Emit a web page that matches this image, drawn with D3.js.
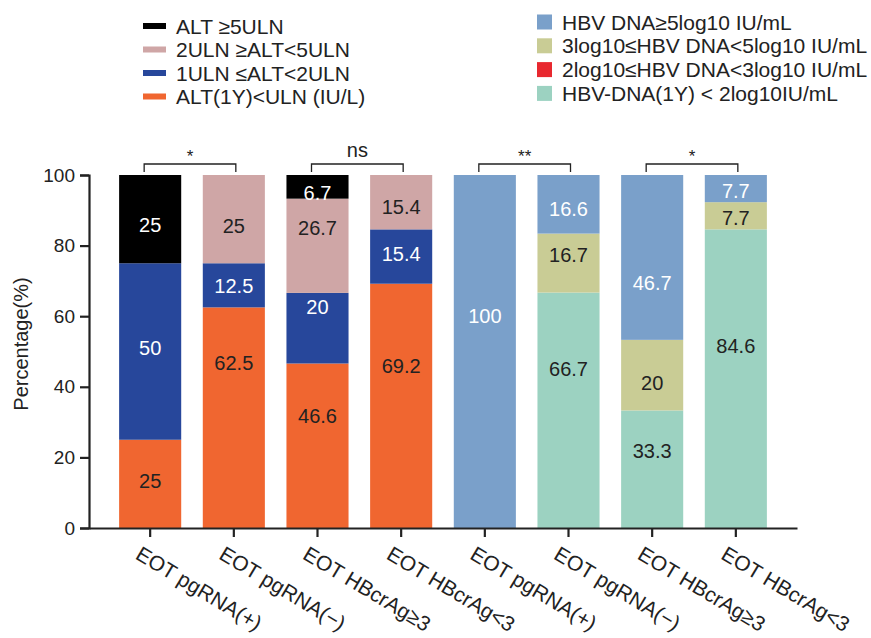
<!DOCTYPE html>
<html>
<head>
<meta charset="utf-8">
<script src="https://cdn.jsdelivr.net/npm/d3@7"></script>
<style>
  html, body { margin: 0; padding: 0; background: #fff; }
  svg { display: block; font-family: "Liberation Sans", Arial, Helvetica, sans-serif; }
</style>
</head>
<body>
<svg id="chart" width="871" height="638"></svg>
<script>
// Groups along the x axis
const categories = [
  "EOT pgRNA(+)", "EOT pgRNA(−)", "EOT HBcrAg≥3", "EOT HBcrAg<3",
  "EOT pgRNA(+)", "EOT pgRNA(−)", "EOT HBcrAg≥3", "EOT HBcrAg<3"
];

// ALT outcome at 1 year (%), first four groups
const altBelowUln = [25, 62.5, 46.6, 69.2, 0, 0, 0, 0];
const alt1to2Uln  = [50, 12.5, 20, 15.4, 0, 0, 0, 0];
const alt2to5Uln  = [0, 25, 26.7, 15.4, 0, 0, 0, 0];
const altAbove5   = [25, 0, 6.7, 0, 0, 0, 0, 0];

// HBV DNA outcome at 1 year (%), last four groups
const dnaBelow2 = [0, 0, 0, 0, 0, 66.7, 33.3, 84.6];
const dna2to3   = [0, 0, 0, 0, 0, 0, 0, 0];
const dna3to5   = [0, 0, 0, 0, 0, 16.7, 20, 7.7];
const dnaAbove5 = [0, 0, 0, 0, 100, 16.6, 46.7, 7.7];

const yTicks = [0, 20, 40, 60, 80, 100];

// Where each value label sits inside its segment (percent units)
const labelAt = {
  altAbove5:   [85.8, null, 94.9, null, null, null, null, null],
  alt2to5Uln:  [null, 85.6, 85.0, 90.9, null, null, null, null],
  alt1to2Uln:  [51.0, 68.6, 62.6, 77.6, null, null, null, null],
  altBelowUln: [13.3, 46.7, 31.7, 45.9, null, null, null, null],
  dnaAbove5:   [null, null, null, null, 60.0, 90.4, 69.4, 95.5],
  dna3to5:     [null, null, null, null, null, 77.3, 41.0, 87.8],
  dnaBelow2:   [null, null, null, null, null, 45.0, 21.8, 51.6]
};

// Significance brackets between pairs of groups
const comparisons = [
  { a: 0, b: 1, text: "*" },
  { a: 2, b: 3, text: "ns" },
  { a: 4, b: 5, text: "**" },
  { a: 6, b: 7, text: "*" }
];

const series = {
  altBelowUln, alt1to2Uln, alt2to5Uln, altAbove5,
  dnaBelow2, dna2to3, dna3to5, dnaAbove5
};
const stackOrder = ["altBelowUln", "dnaBelow2", "alt1to2Uln", "dna2to3",
                    "alt2to5Uln", "dna3to5", "altAbove5", "dnaAbove5"];

const colors = {
  altAbove5: "#000000",
  alt2to5Uln: "#cfa6a6",
  alt1to2Uln: "#27479b",
  altBelowUln: "#f06630",
  dnaAbove5: "#7aa0ca",
  dna3to5: "#c9cc95",
  dna2to3: "#e8282f",
  dnaBelow2: "#9cd2c1"
};
const labelColor = {
  altAbove5: "#ffffff", alt1to2Uln: "#ffffff", dnaAbove5: "#ffffff",
  alt2to5Uln: "#222222", altBelowUln: "#222222", dna3to5: "#222222", dnaBelow2: "#222222"
};

const legendAlt = [
  { key: "altAbove5", text: "ALT ≥5ULN" },
  { key: "alt2to5Uln", text: "2ULN ≥ALT<5ULN" },
  { key: "alt1to2Uln", text: "1ULN ≤ALT<2ULN" },
  { key: "altBelowUln", text: "ALT(1Y)<ULN (IU/L)" }
];
const legendDna = [
  { key: "dnaAbove5", text: "HBV DNA≥5log10 IU/mL" },
  { key: "dna3to5", text: "3log10≤HBV DNA<5log10 IU/mL" },
  { key: "dna2to3", text: "2log10≤HBV DNA<3log10 IU/mL" },
  { key: "dnaBelow2", text: "HBV-DNA(1Y) < 2log10IU/mL" }
];

const svg = d3.select("#chart");
const axisLeft = 89, axisRight = 797, yBottom = 528, yTop = 175;
const ink = "#222";

const x = d3.scaleBand()
  .domain(d3.range(categories.length))
  .range([axisLeft, axisRight])
  .paddingInner(0.258)
  .paddingOuter(0.36);

const y = d3.scaleLinear().domain([0, 100]).range([yBottom, yTop]);

const rows = categories.map((c, i) => {
  const r = { i };
  stackOrder.forEach(k => r[k] = series[k][i]);
  return r;
});
const stacked = d3.stack().keys(stackOrder)(rows);

// Stacked bars
const layers = svg.append("g").selectAll("g")
  .data(stacked)
  .join("g")
  .attr("fill", d => colors[d.key]);

layers.selectAll("rect")
  .data(d => d.filter(p => p[1] - p[0] > 0))
  .join("rect")
  .attr("x", p => x(p.data.i))
  .attr("width", x.bandwidth())
  .attr("y", p => y(p[1]))
  .attr("height", p => y(p[0]) - y(p[1]));

// Value labels
const labelG = svg.append("g")
  .attr("font-size", 20)
  .attr("text-anchor", "middle");
Object.keys(labelAt).forEach(k => {
  labelAt[k].forEach((pos, i) => {
    if (pos === null) return;
    labelG.append("text")
      .attr("x", x(i) + x.bandwidth() / 2)
      .attr("y", y(pos))
      .attr("dy", "0.36em")
      .attr("fill", labelColor[k])
      .text(series[k][i]);
  });
});

// Y axis
const yAxis = svg.append("g")
  .attr("transform", `translate(${axisLeft},0)`)
  .call(d3.axisLeft(y).tickValues(yTicks).tickSize(9).tickPadding(5));
yAxis.select(".domain").attr("stroke", ink).attr("stroke-width", 2.2);
yAxis.selectAll(".tick line").attr("stroke", ink).attr("stroke-width", 2.2);
yAxis.selectAll(".tick text")
  .attr("font-size", 19)
  .attr("font-family", "Liberation Sans, Arial, sans-serif")
  .attr("fill", ink);

svg.append("text")
  .attr("transform", "translate(28,344) rotate(-90)")
  .attr("text-anchor", "middle")
  .attr("font-size", 20)
  .attr("fill", ink)
  .text("Percentage(%)");

// X axis
const xAxis = svg.append("g")
  .attr("transform", `translate(0,${yBottom})`)
  .call(d3.axisBottom(x).tickSize(9).tickSizeOuter(0).tickFormat(i => categories[i]));
xAxis.select(".domain").attr("stroke", ink).attr("stroke-width", 2.2);
xAxis.selectAll(".tick line").attr("stroke", ink).attr("stroke-width", 2.2);
xAxis.selectAll(".tick text")
  .attr("font-size", 21)
  .attr("font-family", "Liberation Sans, Arial, sans-serif")
  .attr("fill", ink)
  .attr("text-anchor", "start")
  .attr("x", 0).attr("y", 0).attr("dy", 0)
  .attr("transform", "translate(-16,30) rotate(31)");

// Significance brackets
const brG = svg.append("g");
comparisons.forEach(c => {
  const x1 = x(c.a) + x.bandwidth() / 2 - 6;
  const x2 = x(c.b) + x.bandwidth() / 2 + 2;
  const top = 164, foot = 172;
  brG.append("path")
    .attr("d", `M${x1},${foot}V${top}H${x2}V${foot}`)
    .attr("fill", "none")
    .attr("stroke", ink)
    .attr("stroke-width", 1.3);
  brG.append("text")
    .attr("x", (x1 + x2) / 2)
    .attr("y", c.text === "ns" ? 157 : 162)
    .attr("text-anchor", "middle")
    .attr("font-size", c.text === "ns" ? 20 : 17)
    .attr("fill", ink)
    .text(c.text);
});

// Legends
const lgA = svg.append("g").attr("font-size", 21).attr("fill", ink);
legendAlt.forEach((d, i) => {
  const cy = 26 + i * 23.5;
  lgA.append("rect").attr("x", 143).attr("y", cy - 3).attr("width", 23).attr("height", 6)
    .attr("fill", colors[d.key]);
  lgA.append("text").attr("x", 176).attr("y", cy).attr("dy", "0.36em").attr("fill", ink).text(d.text);
});

const lgB = svg.append("g").attr("font-size", 21);
legendDna.forEach((d, i) => {
  const cy = 22 + i * 23.8;
  lgB.append("rect").attr("x", 537).attr("y", cy - 7.5).attr("width", 15).attr("height", 15)
    .attr("fill", colors[d.key]);
  lgB.append("text").attr("x", 562).attr("y", cy).attr("dy", "0.36em").attr("fill", ink).text(d.text);
});
</script>
</body>
</html>
